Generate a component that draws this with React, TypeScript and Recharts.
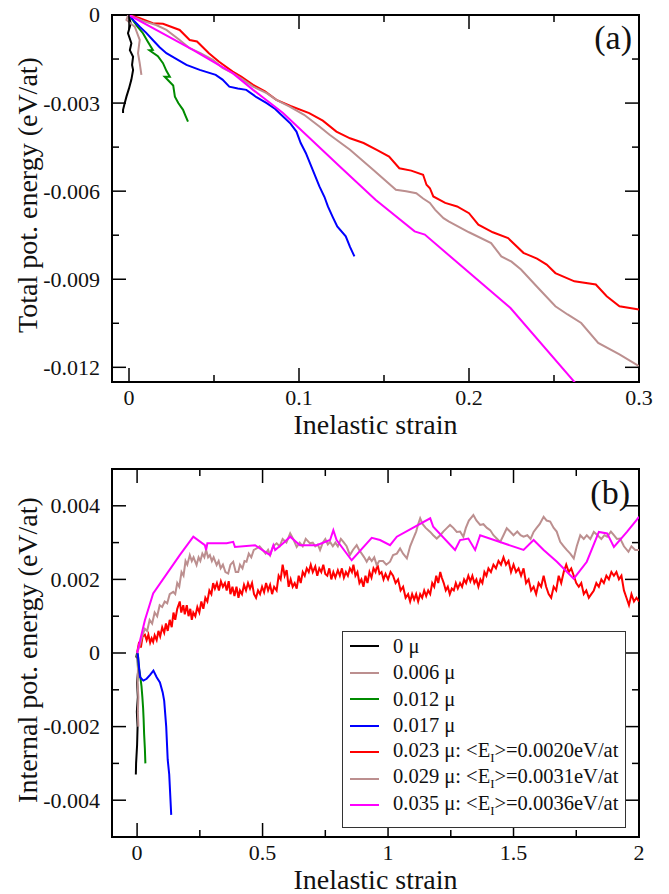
import React from "react";
import { LineChart, Line, XAxis, YAxis, ReferenceArea } from "recharts";

type Pt = [number, number];

const font = "'Liberation Serif', 'Times New Roman', serif";

// series labels / colours (shared by both panels)
const seriesNames = ["0 μ", "0.006 μ", "0.012 μ", "0.017 μ", "0.023 μ", "0.029 μ", "0.035 μ"];
const meanEI = ["", "", "", "", "0.0020", "0.0031", "0.0036"];
const seriesColors = ["#000000", "#bc8f8f", "#008b00", "#0000ff", "#ff0000", "#bc8f8f", "#ff00ff"];

// ---- panel (a): total potential energy vs inelastic strain
const aXTicks = [0, 0.05, 0.1, 0.15, 0.2, 0.25, 0.3];
const aXMajor = [0, 0.1, 0.2, 0.3];
const aYTicks = [0, -0.0015, -0.003, -0.0045, -0.006, -0.0075, -0.009, -0.0105, -0.012];
const aYMajor = [0, -0.003, -0.006, -0.009, -0.012];

const aBlack: Pt[] = [
	[0, -0.00003], [0.001, -0.0003], [-0.0006, -0.00062], [0.0014, -0.00096], [0.0005, -0.0012],
	[0.0024, -0.00142], [0.0018, -0.0017], [0.0024, -0.00187], [0.0014, -0.0022], [0, -0.0025],
	[-0.0015, -0.00278], [-0.0025, -0.003], [-0.0035, -0.00323], [-0.0035, -0.00334],
];
const aBrown6: Pt[] = [
	[-0.0005, 0], [-0.0015, -0.00017], [0.0034, -0.0004], [0.0063, -0.00085], [0.0053, -0.0013],
	[0.0063, -0.00164], [0.0073, -0.00204],
];
const aGreen: Pt[] = [
	[0, 0], [0.0014, -0.00011], [0.005, -0.0004], [0.0082, -0.00062], [0.011, -0.0009], [0.014, -0.00119],
	[0.012, -0.0012], [0.017, -0.0014], [0.02, -0.00164], [0.022, -0.0019], [0.024, -0.0021], [0.021, -0.0021],
	[0.026, -0.0024], [0.027, -0.00278], [0.029, -0.003], [0.0318, -0.00323], [0.033, -0.0034], [0.0347, -0.00363],
];
const aBlue: Pt[] = [
	[0, 0], [0.003, -0.0002], [0.0063, -0.0004], [0.01, -0.0006], [0.014, -0.00085], [0.018, -0.0011],
	[0.022, -0.0013], [0.028, -0.0015], [0.0338, -0.0017], [0.0416, -0.00187], [0.051, -0.00204],
	[0.055, -0.0022], [0.059, -0.00244], [0.064, -0.0025], [0.069, -0.00255], [0.075, -0.0028],
	[0.081, -0.003], [0.086, -0.0032], [0.0906, -0.00346], [0.095, -0.0037], [0.0985, -0.00397],
	[0.101, -0.00436], [0.104, -0.0047], [0.108, -0.00527], [0.112, -0.00584], [0.115, -0.0062],
	[0.117, -0.00652], [0.12, -0.0069], [0.1225, -0.0072], [0.1275, -0.00754], [0.13, -0.0079], [0.1326, -0.00822],
];
const aRed: Pt[] = [
	[0, 0], [0.006, -0.0001], [0.014, -0.00028], [0.02, -0.0003], [0.0298, -0.00051], [0.0357, -0.00085],
	[0.04, -0.0009], [0.047, -0.0013], [0.053, -0.00159], [0.061, -0.00193], [0.066, -0.0021], [0.073, -0.00238],
	[0.08, -0.0026], [0.0867, -0.00289], [0.095, -0.0031], [0.106, -0.00334], [0.114, -0.0036], [0.122, -0.00397],
	[0.13, -0.0042], [0.138, -0.00436], [0.146, -0.0046], [0.153, -0.00482], [0.159, -0.00522], [0.166, -0.0053],
	[0.173, -0.00544], [0.175, -0.00578], [0.177, -0.0059], [0.179, -0.00618], [0.186, -0.0064], [0.193, -0.00652],
	[0.2, -0.00675], [0.2055, -0.00714], [0.214, -0.0074], [0.223, -0.0076], [0.232, -0.0081], [0.24, -0.0083],
	[0.2457, -0.0085], [0.2508, -0.00879], [0.262, -0.00907], [0.2746, -0.00918], [0.281, -0.00958],
	[0.2885, -0.00992], [0.3, -0.01003],
];
const aBrown29: Pt[] = [
	[0, 0], [0.008, -0.0002], [0.016, -0.00034], [0.022, -0.00051], [0.0298, -0.00085], [0.0357, -0.00113],
	[0.042, -0.0013], [0.0494, -0.00153], [0.055, -0.0018], [0.061, -0.00198], [0.067, -0.0022], [0.073, -0.00244],
	[0.081, -0.00266], [0.0867, -0.00289], [0.0945, -0.00312], [0.103, -0.0034], [0.112, -0.0038], [0.118, -0.00408],
	[0.13, -0.00459], [0.1436, -0.00527], [0.157, -0.00595], [0.163, -0.006], [0.169, -0.00607], [0.173, -0.00625],
	[0.177, -0.0064], [0.18, -0.00663], [0.185, -0.00692], [0.188, -0.00703], [0.2, -0.0074], [0.213, -0.00777],
	[0.219, -0.00822], [0.225, -0.0084], [0.2306, -0.00867], [0.2407, -0.0093], [0.2508, -0.00992],
	[0.258, -0.0102], [0.266, -0.01049], [0.276, -0.01117], [0.2885, -0.01156], [0.3, -0.01196],
];
const aMagenta: Pt[] = [
	[0, 0], [0.016, -0.00051], [0.0376, -0.00119], [0.061, -0.00198], [0.073, -0.00255], [0.0906, -0.00334],
	[0.124, -0.00516], [0.145, -0.00629], [0.168, -0.00737], [0.174, -0.00748], [0.2244, -0.00998], [0.268, -0.0129],
];

// ---- panel (b): internal potential energy vs inelastic strain
const bXTicks = [0, 0.25, 0.5, 0.75, 1, 1.25, 1.5, 1.75, 2];
const bXMajor = [0, 0.5, 1, 1.5, 2];
const bYTicks = [-0.004, -0.003, -0.002, -0.001, 0, 0.001, 0.002, 0.003, 0.004];
const bYMajor = [-0.004, -0.002, 0, 0.002, 0.004];

const bBlack: Pt[] = [
	[0, 0], [-0.003, -0.0001], [0.002, -0.00015], [0.004, -0.0005], [0, -0.0008], [0.003, -0.0012],
	[-0.001, -0.0016], [0.002, -0.002], [0, -0.0025], [-0.004, -0.003], [-0.005, -0.0033],
];
const bBrown6: Pt[] = [
	[0, 0], [0.004, -0.0003], [0.002, -0.0008], [0.005, -0.0012], [0.003, -0.0016], [0.005, -0.002],
];
const bGreen: Pt[] = [
	[0, 0], [0.004, -0.0001], [0.007, -0.0004], [0.012, -0.0006], [0.0175, -0.0009], [0.021, -0.0012],
	[0.024, -0.0015], [0.026, -0.0018], [0.028, -0.0022], [0.031, -0.0026], [0.033, -0.003],
];
const bBlue: Pt[] = [
	[0, 0], [0.0025, -0.00002], [0.008, -0.0004], [0.012, -0.00066], [0.025, -0.00075], [0.038, -0.0007],
	[0.051, -0.0006], [0.065, -0.00048], [0.078, -0.00066], [0.091, -0.0008], [0.102, -0.00107],
	[0.108, -0.0013], [0.116, -0.002], [0.122, -0.0029], [0.128, -0.0033], [0.136, -0.0044],
];
const bRed: Pt[] = [
	[0, 0], [0.008, 0.0003], [0.015, 0.00015], [0.022, 0.00045], [0.031, 0.0005], [0.038, 0.00035],
	[0.045, 0.0005], [0.052, 0.00028], [0.058, 0.0004], [0.064, 0.0003], [0.07, 0.00048], [0.078, 0.00035],
	[0.085, 0.0006], [0.092, 0.00045], [0.1, 0.0007], [0.108, 0.00055], [0.115, 0.0008], [0.122, 0.0006],
	[0.13, 0.0009], [0.138, 0.0007], [0.145, 0.0011], [0.152, 0.0009], [0.16, 0.0012], [0.17, 0.0014],
	[0.176, 0.0011], [0.184, 0.0013], [0.19, 0.00105], [0.198, 0.0013], [0.205, 0.001], [0.212, 0.0012],
	[0.218, 0.0009], [0.224, 0.0011], [0.232, 0.001], [0.24, 0.00125], [0.248, 0.0011], [0.256, 0.0014],
	[0.264, 0.0012], [0.272, 0.0015], [0.28, 0.0014], [0.288, 0.0017], [0.296, 0.0016], [0.303, 0.0019],
	[0.31, 0.00175], [0.318, 0.0019], [0.326, 0.0017], [0.334, 0.00195], [0.342, 0.0018], [0.35, 0.0019],
	[0.357, 0.0017], [0.365, 0.00195], [0.372, 0.0016], [0.38, 0.0018], [0.388, 0.00155], [0.396, 0.0018],
	[0.404, 0.0015], [0.41, 0.0017], [0.418, 0.0016], [0.426, 0.00185], [0.434, 0.0017], [0.442, 0.0019],
	[0.45, 0.00175], [0.458, 0.0019], [0.466, 0.0016], [0.474, 0.0015], [0.482, 0.0017], [0.49, 0.0016],
	[0.498, 0.0018], [0.506, 0.00165], [0.514, 0.0019], [0.522, 0.0017], [0.53, 0.00185], [0.538, 0.0016],
	[0.546, 0.0018], [0.556, 0.0017], [0.564, 0.0021], [0.572, 0.002], [0.58, 0.0024], [0.588, 0.0021],
	[0.596, 0.00225], [0.604, 0.0018], [0.612, 0.002], [0.62, 0.0018], [0.628, 0.0019], [0.636, 0.00175],
	[0.644, 0.0021], [0.652, 0.0019], [0.66, 0.0022], [0.668, 0.0021], [0.676, 0.0023], [0.684, 0.0022],
	[0.692, 0.0024], [0.7, 0.0022], [0.71, 0.00235], [0.718, 0.0021], [0.726, 0.0023], [0.734, 0.0022],
	[0.742, 0.0024], [0.75, 0.00215], [0.758, 0.0021], [0.766, 0.0023], [0.774, 0.002], [0.782, 0.0022],
	[0.79, 0.00205], [0.8, 0.00225], [0.808, 0.0021], [0.816, 0.0023], [0.824, 0.00205], [0.832, 0.0022],
	[0.84, 0.0021], [0.848, 0.0023], [0.856, 0.0022], [0.862, 0.0024], [0.87, 0.0021], [0.878, 0.0022],
	[0.886, 0.0019], [0.894, 0.002], [0.902, 0.0018], [0.91, 0.0021], [0.918, 0.0019], [0.926, 0.0022],
	[0.934, 0.00205], [0.942, 0.0023], [0.95, 0.0022], [0.958, 0.0024], [0.966, 0.00215], [0.974, 0.0022],
	[0.982, 0.002], [0.99, 0.00215], [1.0, 0.002], [1.01, 0.0022], [1.02, 0.0021], [1.03, 0.0019],
	[1.04, 0.002], [1.05, 0.0017], [1.06, 0.0018], [1.07, 0.0015], [1.08, 0.0016], [1.088, 0.0014],
	[1.096, 0.0016], [1.104, 0.00145], [1.112, 0.0016], [1.12, 0.0014], [1.128, 0.0016], [1.136, 0.0015],
	[1.144, 0.0017], [1.152, 0.00155], [1.16, 0.0017], [1.168, 0.0016], [1.176, 0.0019], [1.184, 0.0018],
	[1.192, 0.0021], [1.2, 0.0019], [1.208, 0.0022], [1.214, 0.00205], [1.222, 0.0019], [1.23, 0.0017],
	[1.238, 0.0018], [1.246, 0.0016], [1.254, 0.00175], [1.262, 0.0017], [1.27, 0.0019], [1.278, 0.00175],
	[1.287, 0.0019], [1.295, 0.0018], [1.303, 0.002], [1.311, 0.0019], [1.32, 0.0021], [1.328, 0.00195],
	[1.336, 0.0021], [1.344, 0.0019], [1.352, 0.002], [1.36, 0.0018], [1.368, 0.002], [1.376, 0.0019],
	[1.384, 0.0022], [1.392, 0.0021], [1.4, 0.0023], [1.41, 0.0022], [1.42, 0.0024], [1.43, 0.0023],
	[1.44, 0.0025], [1.45, 0.0024], [1.46, 0.0026], [1.47, 0.0024], [1.48, 0.0025], [1.49, 0.0022],
	[1.5, 0.0024], [1.51, 0.0022], [1.52, 0.0023], [1.53, 0.0021], [1.54, 0.0023], [1.55, 0.0019],
	[1.56, 0.002], [1.57, 0.0017], [1.58, 0.0018], [1.59, 0.0016], [1.6, 0.0019], [1.61, 0.0018],
	[1.62, 0.0021], [1.63, 0.0018], [1.64, 0.0016], [1.65, 0.0015], [1.66, 0.0018], [1.67, 0.0017],
	[1.68, 0.0021], [1.69, 0.0019], [1.7, 0.0022], [1.71, 0.0024], [1.72, 0.0022], [1.73, 0.0023],
	[1.74, 0.0021], [1.75, 0.0019], [1.76, 0.0018], [1.77, 0.0019], [1.78, 0.0016], [1.79, 0.0017],
	[1.8, 0.0015], [1.81, 0.0016], [1.82, 0.0017], [1.83, 0.0019], [1.84, 0.0018], [1.85, 0.002],
	[1.86, 0.0019], [1.87, 0.0021], [1.88, 0.002], [1.89, 0.0022], [1.9, 0.0021], [1.91, 0.0022],
	[1.92, 0.002], [1.93, 0.0021], [1.94, 0.0017], [1.95, 0.0015], [1.96, 0.0013], [1.97, 0.0016],
	[1.98, 0.0014], [1.99, 0.0015], [2.0, 0.0014],
];
const bBrown29: Pt[] = [
	[0, 0], [0.01, 0.0002], [0.02, 0.00045], [0.031, 0.00066], [0.04, 0.0006], [0.05, 0.0009], [0.06, 0.0008],
	[0.07, 0.0011], [0.08, 0.001], [0.09, 0.0013], [0.1, 0.00125], [0.11, 0.0014], [0.12, 0.00135],
	[0.13, 0.0016], [0.144, 0.00166], [0.152, 0.0016], [0.16, 0.0019], [0.168, 0.0018], [0.177, 0.0022],
	[0.185, 0.0021], [0.193, 0.0025], [0.2, 0.0024], [0.21, 0.00266], [0.218, 0.0025], [0.225, 0.0026],
	[0.237, 0.00239], [0.245, 0.0026], [0.252, 0.0025], [0.26, 0.0027], [0.268, 0.0026], [0.275, 0.0028],
	[0.283, 0.0026], [0.29, 0.00266], [0.298, 0.0025], [0.305, 0.0026], [0.317, 0.00239], [0.325, 0.0025],
	[0.333, 0.0023], [0.342, 0.0024], [0.352, 0.0022], [0.363, 0.00216], [0.372, 0.0024], [0.383, 0.00248],
	[0.393, 0.0022], [0.403, 0.0022], [0.41, 0.0024], [0.42, 0.0023], [0.428, 0.0025], [0.436, 0.00248],
	[0.445, 0.0027], [0.455, 0.0026], [0.465, 0.0028], [0.476, 0.00284], [0.488, 0.0029], [0.5, 0.0028],
	[0.512, 0.0027], [0.522, 0.0028], [0.53, 0.00266], [0.542, 0.0029], [0.556, 0.00298], [0.568, 0.0029],
	[0.58, 0.0031], [0.595, 0.003], [0.61, 0.00325], [0.622, 0.0031], [0.636, 0.00288], [0.648, 0.003],
	[0.66, 0.0029], [0.672, 0.0031], [0.689, 0.00298], [0.7, 0.003], [0.71, 0.0029], [0.72, 0.00295],
	[0.729, 0.0028], [0.74, 0.003], [0.75, 0.0031], [0.76, 0.00295], [0.769, 0.00302], [0.78, 0.0029],
	[0.79, 0.003], [0.8, 0.0029], [0.812, 0.0031], [0.822, 0.00302], [0.835, 0.0029], [0.848, 0.00266],
	[0.86, 0.0028], [0.875, 0.00293], [0.885, 0.0028], [0.895, 0.0027], [0.905, 0.0026], [0.915, 0.00248],
	[0.925, 0.0026], [0.935, 0.0025], [0.945, 0.0026], [0.955, 0.00239], [0.965, 0.0025], [0.98, 0.0025],
	[0.993, 0.0024], [1.008, 0.00248], [1.02, 0.00266], [1.035, 0.0027], [1.048, 0.00284], [1.06, 0.0027],
	[1.075, 0.00257], [1.088, 0.0029], [1.1, 0.0031], [1.112, 0.0033], [1.12, 0.0035], [1.128, 0.00366],
	[1.138, 0.0035], [1.15, 0.0034], [1.168, 0.00329], [1.18, 0.0032], [1.194, 0.00311], [1.208, 0.0032],
	[1.22, 0.0033], [1.235, 0.0034], [1.247, 0.00348], [1.26, 0.0034], [1.274, 0.00329], [1.287, 0.0033],
	[1.3, 0.00316], [1.31, 0.0034], [1.322, 0.0036], [1.34, 0.00375], [1.352, 0.0036], [1.367, 0.00348],
	[1.38, 0.0035], [1.394, 0.0034], [1.407, 0.00334], [1.42, 0.0032], [1.435, 0.0031], [1.447, 0.00302],
	[1.46, 0.0032], [1.473, 0.00339], [1.486, 0.0033], [1.5, 0.0032], [1.515, 0.0033], [1.528, 0.0032],
	[1.54, 0.00316], [1.555, 0.0032], [1.568, 0.0031], [1.58, 0.00329], [1.592, 0.0034], [1.604, 0.0035],
	[1.62, 0.0037], [1.632, 0.0036], [1.646, 0.00357], [1.66, 0.0034], [1.672, 0.0033], [1.686, 0.00302],
	[1.7, 0.0029], [1.712, 0.0028], [1.726, 0.0027], [1.74, 0.00257], [1.752, 0.0029], [1.766, 0.0032],
	[1.78, 0.0031], [1.792, 0.0032], [1.806, 0.0031], [1.82, 0.00329], [1.835, 0.0032], [1.85, 0.0031],
	[1.862, 0.0032], [1.873, 0.00316], [1.888, 0.0033], [1.9, 0.0032], [1.912, 0.0031], [1.925, 0.00311],
	[1.94, 0.0029], [1.958, 0.00275], [1.97, 0.0029], [1.985, 0.0028], [2.0, 0.0028],
];
const bMagenta: Pt[] = [
	[0, 0], [0.031, 0.00089], [0.064, 0.00162], [0.17, 0.00266], [0.224, 0.00316], [0.27, 0.00293],
	[0.275, 0.0028], [0.28, 0.00298], [0.357, 0.00298], [0.383, 0.00302], [0.39, 0.00288], [0.47, 0.00293],
	[0.53, 0.00266], [0.543, 0.00293], [0.55, 0.0028], [0.582, 0.00298], [0.61, 0.00316], [0.649, 0.00293],
	[0.716, 0.00293], [0.769, 0.00307], [0.782, 0.00334], [0.795, 0.00307], [0.855, 0.00252], [0.935, 0.00313],
	[0.968, 0.00307], [1.008, 0.00293], [1.035, 0.00316], [1.168, 0.00366], [1.18, 0.00343], [1.267, 0.0028],
	[1.287, 0.00307], [1.32, 0.00311], [1.347, 0.0028], [1.367, 0.0032], [1.54, 0.0028], [1.58, 0.00307],
	[1.62, 0.0028], [1.673, 0.00248], [1.74, 0.00202], [1.792, 0.00248], [1.84, 0.00329], [1.873, 0.00325],
	[1.9, 0.00288], [1.952, 0.00329], [1.99, 0.00361], [2.0, 0.0037],
];

const aSeries = [aBlack, aBrown6, aGreen, aBlue, aRed, aBrown29, aMagenta];
const bSeries = [bBlack, bBrown6, bGreen, bBlue, bRed, bBrown29, bMagenta];

const toRows = (pts: Pt[]) => pts.map(([x, y]) => ({ x, y }));

type Box = { l: number; r: number; t: number; b: number };
const boxA: Box = { l: 112, r: 639, t: 15, b: 382 };
const boxB: Box = { l: 112, r: 639, t: 29, b: 397 };

const textStyle = { fontFamily: font, fill: "#111" };

const YTick = (props: any) => {
	const { y, payload, box, major } = props;
	const big = major.includes(payload.value);
	const len = big ? 14 : 7;
	return (
		<g>
			<line x1={box.l} x2={box.l + len} y1={y} y2={y} stroke='#000' strokeWidth={1.5} />
			<line x1={box.r} x2={box.r - len} y1={y} y2={y} stroke='#000' strokeWidth={1.5} />
			{big && (
				<text x={box.l - 12} y={y} dy='0.34em' textAnchor='end' fontSize={22} style={textStyle}>
					{String(payload.value)}
				</text>
			)}
		</g>
	);
};

const XTick = (props: any) => {
	const { x, payload, box, major } = props;
	const big = major.includes(payload.value);
	const len = big ? 14 : 7;
	return (
		<g>
			<line x1={x} x2={x} y1={box.b} y2={box.b - len} stroke='#000' strokeWidth={1.5} />
			<line x1={x} x2={x} y1={box.t} y2={box.t + len} stroke='#000' strokeWidth={1.5} />
			{big && (
				<text x={x} y={box.b + 23} textAnchor='middle' fontSize={22} style={textStyle}>
					{String(payload.value)}
				</text>
			)}
		</g>
	);
};

const AxisTitle = (props: any) => {
	const { tx, ty, text, vertical } = props;
	return (
		<text
			x={tx}
			y={ty}
			textAnchor='middle'
			fontSize={28}
			style={textStyle}
			transform={vertical ? `rotate(-90 ${tx} ${ty})` : undefined}>
			{text}
		</text>
	);
};

const Panel = ({
	height,
	margin,
	box,
	xDomain,
	yDomain,
	xTicks,
	xMajor,
	yTicks,
	yMajor,
	series,
	yTitle,
	yTitleY,
	xTitleY,
}: any) => (
	<LineChart width={669} height={height} margin={margin}>
		<XAxis
			dataKey='x'
			type='number'
			domain={xDomain}
			allowDataOverflow
			ticks={xTicks}
			interval={0}
			axisLine={false}
			tickLine={false}
			height={30}
			tick={(p: any) => <XTick {...p} box={box} major={xMajor} />}
			label={<AxisTitle tx={375.5} ty={xTitleY} text='Inelastic strain' />}
		/>
		<YAxis
			dataKey='y'
			type='number'
			domain={yDomain}
			allowDataOverflow
			ticks={yTicks}
			interval={0}
			axisLine={false}
			tickLine={false}
			width={60}
			tick={(p: any) => <YTick {...p} box={box} major={yMajor} />}
			label={<AxisTitle tx={37} ty={yTitleY} text={yTitle} vertical />}
		/>
		<ReferenceArea
			x1={xDomain[0]}
			x2={xDomain[1]}
			y1={yDomain[0]}
			y2={yDomain[1]}
			fill='none'
			stroke='#000'
			strokeWidth={2}
		/>
		{series.map((pts: Pt[], i: number) => (
			<Line
				key={i}
				data={toRows(pts)}
				dataKey='y'
				type='linear'
				stroke={seriesColors[i]}
				strokeWidth={2}
				dot={false}
				activeDot={false}
				isAnimationActive={false}
			/>
		))}
	</LineChart>
);

const LegendBox = () => (
	<div
		style={{
			position: "absolute",
			left: 342,
			top: 631,
			width: 282,
			height: 194,
			border: "1.5px solid #333",
			background: "#fff",
			paddingTop: 1,
			fontFamily: font,
			fontSize: 20.5,
			color: "#111",
		}}>
		{seriesNames.map((name, i) => (
			<div key={name} style={{ height: 26.5, display: "flex", alignItems: "center" }}>
				<div style={{ width: 29, height: 2, background: seriesColors[i], marginLeft: 7, marginRight: 14 }} />
				<span style={{ whiteSpace: "nowrap" }}>
					{name}
					{meanEI[i] && (
						<>
							{": <E"}
							<sub style={{ fontSize: 13, verticalAlign: "-5px" }}>I</sub>
							{">=" + meanEI[i] + "eV/at"}
						</>
					)}
				</span>
			</div>
		))}
	</div>
);

export default function App() {
	return (
		<div style={{ position: "absolute", left: 0, top: 0, width: 669, height: 894, background: "#fff" }}>
			<div style={{ position: "absolute", left: 0, top: 0 }}>
				<Panel
					height={440}
					margin={{ top: 15, right: 30, bottom: 28, left: 52 }}
					box={boxA}
					xDomain={[-0.01, 0.3]}
					yDomain={[-0.0125, 0]}
					xTicks={aXTicks}
					xMajor={aXMajor}
					yTicks={aYTicks}
					yMajor={aYMajor}
					series={aSeries}
					yTitle='Total pot. energy (eV/at)'
					yTitleY={195}
					xTitleY={434}
				/>
			</div>
			<div style={{ position: "absolute", left: 0, top: 440 }}>
				<Panel
					height={454}
					margin={{ top: 29, right: 30, bottom: 27, left: 52 }}
					box={boxB}
					xDomain={[-0.1, 2]}
					yDomain={[-0.005, 0.005]}
					xTicks={bXTicks}
					xMajor={bXMajor}
					yTicks={bYTicks}
					yMajor={bYMajor}
					series={bSeries}
					yTitle='Internal pot. energy (eV/at)'
					yTitleY={210}
					xTitleY={449}
				/>
			</div>
			<LegendBox />
			<svg width={669} height={894} style={{ position: "absolute", left: 0, top: 0, pointerEvents: "none" }}>
				<text x={632} y={49} textAnchor='end' fontSize={34} style={textStyle}>
					(a)
				</text>
				<text x={630} y={504} textAnchor='end' fontSize={34} style={textStyle}>
					(b)
				</text>
			</svg>
		</div>
	);
}
